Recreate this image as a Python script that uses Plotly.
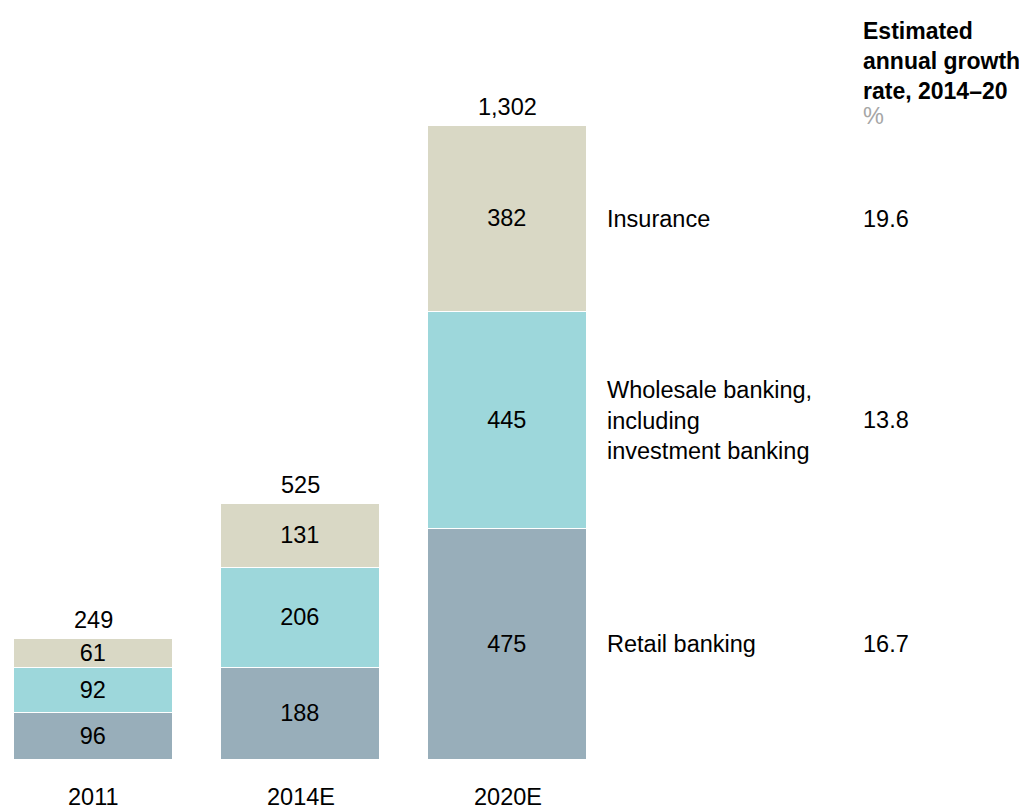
import plotly.graph_objects as go

categories = ["2011", "2014E", "2020E"]
retail = [96, 188, 475]
wholesale = [92, 206, 445]
insurance = [61, 131, 382]
totals = [249, 525, 1302]
total_labels = ["249", "525", "1,302"]
segment_names = ["Retail banking", "Wholesale banking,<br>including<br>investment banking", "Insurance"]
growth_rates = ["16.7", "13.8", "19.6"]

colors = ["#98aeba", "#9dd7db", "#d9d8c5"]
FONT = "Arial, 'Liberation Sans', sans-serif"
FS = 23.5

# page body has an 8px margin; the figure is sized to fit the window
OFF = 8
W, H = 1027 - OFF, 809 - OFF

xpos = [0, 1, 2]
fig = go.Figure()
for vals, col, name in zip([retail, wholesale, insurance], colors, segment_names):
    fig.add_trace(go.Bar(
        x=xpos, y=vals, marker=dict(color=col, line=dict(color="white", width=1.5)),
        width=0.77, text=[str(v) for v in vals], textposition="inside",
        insidetextanchor="middle", constraintext="none", textangle=0,
        textfont=dict(family=FONT, size=FS, color="black"),
        name=name, showlegend=False, hoverinfo="skip"))

for x, t, lab in zip(xpos, totals, total_labels):
    fig.add_annotation(x=x, y=t, xref="x", yref="y", text=lab, showarrow=False,
                       yanchor="bottom", yshift=4,
                       font=dict(family=FONT, size=FS, color="black"))
for x, c in zip(xpos, categories):
    fig.add_annotation(x=x, y=0, xref="x", yref="y", text=c, showarrow=False,
                       yanchor="top", yshift=-22,
                       font=dict(family=FONT, size=FS, color="black"))

last = [retail[-1], wholesale[-1], insurance[-1]]
base = 0
for v, name, g in zip(last, segment_names, growth_rates):
    mid = base + v / 2
    base += v
    fig.add_annotation(x=(605 - OFF) / W, xref="paper", y=mid, yref="y", text=name,
                       showarrow=False, xanchor="left", align="left",
                       font=dict(family=FONT, size=FS, color="black"))
    fig.add_annotation(x=(861 - OFF) / W, xref="paper", y=mid, yref="y", text=g,
                       showarrow=False, xanchor="left", align="left",
                       font=dict(family=FONT, size=FS, color="black"))

fig.add_annotation(x=(861 - OFF) / W, xref="paper", y=1 - 8 / H, yref="paper",
                   text="<b>Estimated<br>annual growth<br>rate, 2014–20</b>",
                   showarrow=False, xanchor="left", yanchor="top", align="left",
                   font=dict(family=FONT, size=23, color="black"))
fig.add_annotation(x=(861 - OFF) / W, xref="paper", y=1 - (116 - OFF) / H, yref="paper",
                   text="%", showarrow=False, xanchor="left", yanchor="middle", align="left",
                   font=dict(family=FONT, size=FS, color="#a6a6a6"))

scale = 634 / 1302
cx0 = 93.5 - OFF
base_px = 760 - OFF
fig.update_layout(
    barmode="stack", bargap=0,
    width=W, height=H,
    margin=dict(l=0, r=0, t=0, b=0),
    plot_bgcolor="white", paper_bgcolor="white",
    xaxis=dict(range=[-cx0 / 207, (W - cx0) / 207], visible=False, fixedrange=True),
    yaxis=dict(range=[-(H - base_px) / scale, base_px / scale], visible=False, fixedrange=True),
)
fig.write_html("out.html")
